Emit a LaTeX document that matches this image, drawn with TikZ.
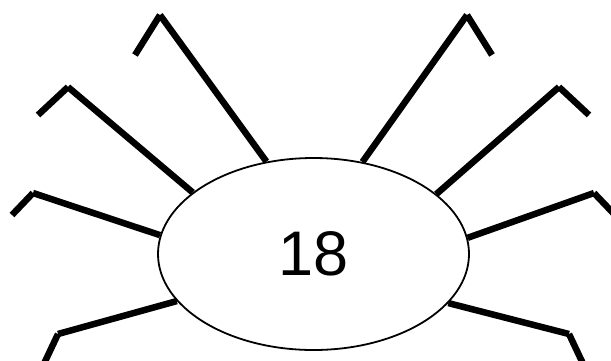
\documentclass[tikz,border=0pt]{standalone}
\usepackage{fontspec}
\setmainfont{Liberation Sans}
\usetikzlibrary{shapes.geometric, backgrounds}
\tikzstyle{body}=[draw, ellipse, fill=white, line width=1.8pt, minimum width=311pt, minimum height=192pt, inner sep=0pt, font=\fontsize{63}{63}\selectfont]
\tikzstyle{leg}=[line width=6.5pt]

\begin{document}
\begin{tikzpicture}[x=1pt, y=-1pt]
    \clip (0,0) rectangle (611,360);
    \node[body] (b) at (313.5,254) {18};
    % knees and feet, left side
    \coordinate (k1) at (160,15);  \coordinate (f1) at (135,55);
    \coordinate (k2) at (68,87);   \coordinate (f2) at (38,115);
    \coordinate (k3) at (33,193);  \coordinate (f3) at (12,215);
    \coordinate (k4) at (58,334);  \coordinate (f4) at (41,370);
    % right side
    \coordinate (k5) at (467,15);  \coordinate (f5) at (492,55);
    \coordinate (k6) at (559,87);  \coordinate (f6) at (589,115);
    \coordinate (k7) at (594,193); \coordinate (f7) at (615,215);
    \coordinate (k8) at (569,334); \coordinate (f8) at (586,370);
    \begin{scope}[on background layer]
        \draw[leg] (b.117.8) -- (k1); \draw[leg] (k1) -- (f1);
        \draw[leg] (b.153.3) -- (k2); \draw[leg] (k2) -- (f2);
        \draw[leg] (b.173.7) -- (k3); \draw[leg] (k3) -- (f3);
        \draw[leg] (b.199.5) -- (k4); \draw[leg] (k4) -- (f4);
        \draw[leg] (b.62.2) -- (k5);  \draw[leg] (k5) -- (f5);
        \draw[leg] (b.26.7) -- (k6);  \draw[leg] (k6) -- (f6);
        \draw[leg] (b.6.3) -- (k7);   \draw[leg] (k7) -- (f7);
        \draw[leg] (b.340.5) -- (k8); \draw[leg] (k8) -- (f8);
    \end{scope}
\end{tikzpicture}
\end{document}
